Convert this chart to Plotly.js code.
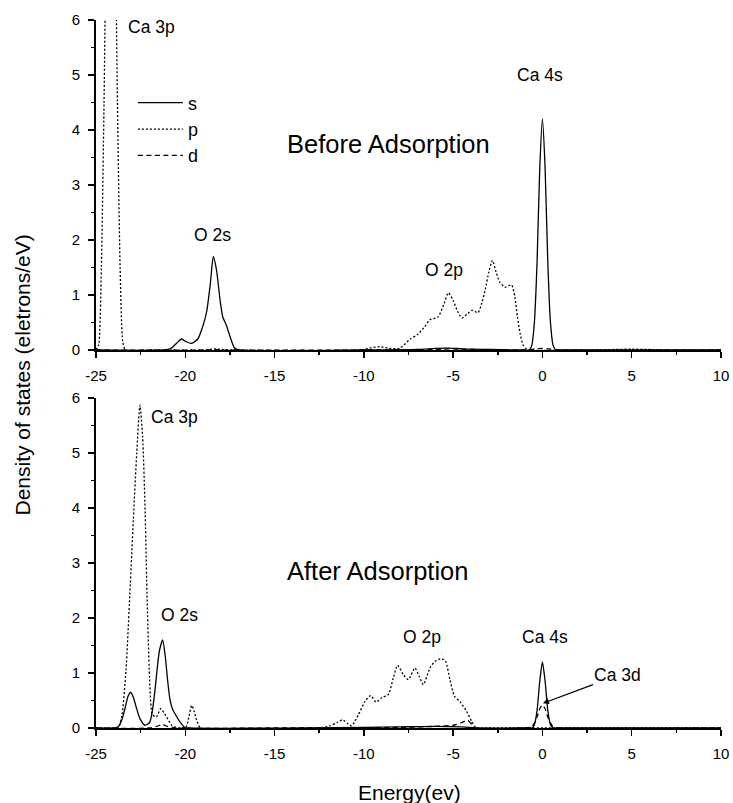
<!DOCTYPE html>
<html>
<head>
<meta charset="utf-8">
<script src="https://cdn.plot.ly/plotly-3.0.1.min.js"></script>
<style>html,body{margin:0;padding:0;background:#fff;}#chart{width:733px;height:803px;}</style>
</head>
<body>
<div id="chart"></div>
<script>
// ---------- Before adsorption ----------
var beforeSX = [-25, -21.2, -20.8, -20.5, -20.2, -19.95, -19.65, -19.3, -19.0, -18.8, -18.6, -18.43, -18.25, -18.05, -17.9, -17.7, -17.5, -17.25, -17.0, -10, -7, -6, -5.2, -4.5, -3, -1.5, -1.0, -0.75, -0.6, -0.45, -0.3, -0.15, 0, 0.15, 0.3, 0.45, 0.6, 0.75, 1.0, 10];
var beforeSY = [0, 0, 0.03, 0.12, 0.2, 0.15, 0.12, 0.2, 0.45, 0.7, 1.2, 1.7, 1.45, 0.9, 0.6, 0.45, 0.25, 0.04, 0, 0, 0.01, 0.03, 0.035, 0.02, 0.01, 0, 0, 0, 0.08, 0.5, 1.6, 3.3, 4.2, 3.3, 1.6, 0.5, 0.08, 0, 0, 0];

var beforePX = [-25, -24.85, -24.7, -24.55, -24.4, -24.17, -23.95, -23.8, -23.65, -23.5, -23.35, -22, -19, -18.4, -18, -17, -10.2, -9.6, -9.1, -8.6, -8.0, -7.4, -7.0, -6.6, -6.3, -5.85, -5.5, -5.27, -5.0, -4.75, -4.5, -4.2, -3.95, -3.6, -3.4, -3.2, -3.0, -2.8, -2.6, -2.4, -2.1, -1.9, -1.72, -1.55, -1.4, -1.25, -1.1, -0.94, -0.7, 3, 4, 5, 6, 7, 10];
var beforePY = [0, 0.1, 1.5, 4.5, 8.5, 13, 8.5, 4.5, 1.5, 0.15, 0, 0, 0, 0.02, 0.01, 0, 0, 0.04, 0.06, 0.03, 0.03, 0.2, 0.28, 0.42, 0.55, 0.6, 0.85, 1.04, 0.9, 0.7, 0.58, 0.66, 0.72, 0.68, 0.85, 1.1, 1.42, 1.63, 1.42, 1.24, 1.14, 1.17, 1.18, 0.98, 0.6, 0.3, 0.1, 0.03, 0, 0, 0.01, 0.015, 0.01, 0, 0];

var beforeDX = [-25, -19, -18.4, -18, -10, -6, -5, -4, -1, -0.3, 0, 0.3, 1, 10];
var beforeDY = [0, 0, 0.01, 0, 0, 0.01, 0.02, 0.01, 0, 0.02, 0.03, 0.02, 0, 0];

// ---------- After adsorption ----------
var afterSX = [-25, -24, -23.75, -23.55, -23.38, -23.2, -23.06, -22.9, -22.75, -22.54, -22.26, -22.0, -21.85, -21.7, -21.55, -21.45, -21.27, -21.12, -21.0, -20.86, -20.7, -20.58, -20.3, -20.02, -19.8, -13, -10, -8, -6, -4.5, -3.5, -1, -0.75, -0.6, -0.45, -0.3, -0.15, 0, 0.15, 0.3, 0.45, 0.6, 0.75, 1, 10];
var afterSY = [0, 0, 0.02, 0.15, 0.35, 0.58, 0.65, 0.55, 0.38, 0.17, 0.05, 0.1, 0.3, 0.68, 1.15, 1.4, 1.6, 1.3, 0.9, 0.52, 0.33, 0.26, 0.11, 0.01, 0, 0, 0.01, 0.02, 0.03, 0.02, 0, 0, 0, 0.0, 0.06, 0.32, 0.85, 1.2, 0.85, 0.32, 0.06, 0, 0, 0, 0];

var afterPX = [-25, -24, -23.75, -23.56, -23.32, -23.13, -22.91, -22.72, -22.54, -22.39, -22.26, -22.13, -21.98, -21.85, -21.62, -21.38, -21.2, -21.04, -20.76, -20.5, -20.3, -19.95, -19.8, -19.64, -19.5, -19.36, -19.14, -13, -12.46, -11.9, -11.5, -11.19, -10.9, -10.68, -10.31, -9.94, -9.62, -9.32, -9.0, -8.63, -8.35, -8.11, -7.79, -7.51, -7.14, -6.9, -6.67, -6.3, -6.02, -5.64, -5.42, -5.18, -4.93, -4.62, -4.24, -3.96, -3.72, -3, 10];
var afterPY = [0, 0, 0.02, 0.2, 1.05, 2.26, 3.78, 4.99, 5.87, 5.3, 4.08, 2.26, 0.75, 0.25, 0.2, 0.35, 0.28, 0.2, 0.05, 0.01, 0, 0.02, 0.2, 0.41, 0.3, 0.14, 0, 0, 0, 0.04, 0.1, 0.15, 0.08, 0.04, 0.24, 0.48, 0.59, 0.47, 0.55, 0.61, 0.91, 1.14, 0.97, 0.88, 1.09, 0.94, 0.79, 1.09, 1.21, 1.26, 1.21, 0.88, 0.58, 0.48, 0.3, 0.12, 0, 0, 0];

var afterDX = [-25, -22, -21.6, -21.3, -21.0, -20.6, -15, -8, -6, -5, -4.5, -4.2, -3.9, -3.7, -1, -0.6, -0.45, -0.3, -0.15, 0, 0.15, 0.3, 0.45, 0.6, 1, 10];
var afterDY = [0, 0, 0.03, 0.06, 0.03, 0, 0, 0.01, 0.03, 0.05, 0.1, 0.14, 0.05, 0, 0, 0.02, 0.09, 0.2, 0.35, 0.42, 0.35, 0.2, 0.09, 0.02, 0, 0];

// ---------- Axis ticks ----------
var xTickVals = [-25, -20, -15, -10, -5, 0, 5, 10];
var xTickText = ["-25", "-20", "-15", "-10", "-5", "0", "5", "10"];
var xMinorVals = [-22.5, -17.5, -12.5, -7.5, -2.5, 2.5, 7.5];
var yTickVals = [0, 1, 2, 3, 4, 5, 6];
var yMinorVals = [0.5, 1.5, 2.5, 3.5, 4.5, 5.5];

var seriesNames = ["s", "p", "d"];

var FONT = "Liberation Sans, Arial, Helvetica, sans-serif";
var dashes = ["solid", "2px,2px", "5px,3.5px"];

function tr(x, y, i, xa, ya, legend) {
  return {
    x: x, y: y, type: "scatter", mode: "lines",
    name: seriesNames[i], showlegend: legend,
    xaxis: xa, yaxis: ya,
    line: {color: "#000", width: 1.3, dash: dashes[i], shape: "spline", smoothing: 0.6},
    hoverinfo: "x+y+name"
  };
}

var data = [
  tr(beforeSX, beforeSY, 0, "x", "y", true),
  tr(beforePX, beforePY, 1, "x", "y", true),
  tr(beforeDX, beforeDY, 2, "x", "y", true),
  tr(afterSX, afterSY, 0, "x2", "y2", false),
  tr(afterPX, afterPY, 1, "x2", "y2", false),
  tr(afterDX, afterDY, 2, "x2", "y2", false)
];

function xAxis(anchor) {
  return {
    domain: [0, 1], anchor: anchor, range: [-25, 10],
    tickmode: "array", tickvals: xTickVals, ticktext: xTickText,
    showline: true, linewidth: 2, linecolor: "#000", mirror: false,
    ticks: "outside", ticklen: 6, tickwidth: 1.5, tickcolor: "#000",
    ticklabelstandoff: 5,
    minor: {tickmode: "array", tickvals: xMinorVals, ticks: "outside", ticklen: 3, tickwidth: 1.5, tickcolor: "#000", showgrid: false},
    showgrid: false, zeroline: false,
    tickfont: {family: FONT, size: 15, color: "#000"}
  };
}
function yAxis(anchor, dom) {
  return {
    domain: dom, anchor: anchor, range: [0, 6],
    tickmode: "array", tickvals: yTickVals, ticktext: yTickVals.map(String),
    showline: true, linewidth: 2, linecolor: "#000", mirror: false,
    ticks: "outside", ticklen: 6, tickwidth: 1.5, tickcolor: "#000",
    ticklabelstandoff: 5,
    minor: {tickmode: "array", tickvals: yMinorVals, ticks: "outside", ticklen: 3, tickwidth: 1.5, tickcolor: "#000", showgrid: false},
    showgrid: false, zeroline: false,
    tickfont: {family: FONT, size: 15, color: "#000"}
  };
}

function lab(text, x, y, xr, yr, size) {
  return {text: text, x: x, y: y, xref: xr, yref: yr, showarrow: false,
          xanchor: "center", yanchor: "middle",
          font: {family: FONT, size: size, color: "#000"}};
}

var annotations = [
  lab("Ca 3p", -21.92, 5.87, "x", "y", 17.5),
  lab("O 2s", -18.45, 2.09, "x", "y", 17.5),
  lab("Before Adsorption", -8.62, 3.75, "x", "y", 25.5),
  lab("O 2p", -5.51, 1.45, "x", "y", 17.5),
  lab("Ca 4s", -0.14, 5.0, "x", "y", 17.5),
  lab("Ca 3p", -20.63, 5.65, "x2", "y2", 17.5),
  lab("O 2s", -20.35, 2.05, "x2", "y2", 17.5),
  lab("After Adsorption", -9.24, 2.85, "x2", "y2", 25.5),
  lab("O 2p", -6.74, 1.65, "x2", "y2", 17.5),
  lab("Ca 4s", 0.14, 1.65, "x2", "y2", 17.5),
  {text: "Ca 3d", x: 0.03, y: 0.45, xref: "x2", yref: "y2", showarrow: true,
   ax: 75, ay: -28, arrowhead: 2, arrowsize: 1, arrowwidth: 1.2, arrowcolor: "#000",
   font: {family: FONT, size: 17.5, color: "#000"}},
  {text: "Density of states (eletrons/eV)", x: -0.1176, y: 0.4986, xref: "paper", yref: "paper",
   showarrow: false, textangle: -90, xanchor: "center", yanchor: "middle",
   font: {family: FONT, size: 21, color: "#000"}},
  {text: "Energy(ev)", x: 0.502, y: -0.0918, xref: "paper", yref: "paper",
   showarrow: false, xanchor: "center", yanchor: "middle",
   font: {family: FONT, size: 21, color: "#000"}}
];

var layout = {
  width: 733, height: 803,
  margin: {l: 96, r: 12, t: 20, b: 75},
  paper_bgcolor: "#fff", plot_bgcolor: "#fff",
  font: {family: FONT, color: "#000"},
  xaxis: xAxis("y"),
  yaxis: yAxis("x", [0.5339, 1]),
  xaxis2: xAxis("y2"),
  yaxis2: yAxis("x2", [0, 0.4661]),
  showlegend: true,
  legend: {x: 0.059, y: 0.909, xanchor: "left", yanchor: "top",
           bgcolor: "rgba(0,0,0,0)", borderwidth: 0, itemwidth: 45, tracegroupgap: 0,
           font: {family: FONT, size: 18, color: "#000"}},
  annotations: annotations
};

Plotly.newPlot("chart", data, layout, {displayModeBar: false, staticPlot: true});
</script>
</body>
</html>
